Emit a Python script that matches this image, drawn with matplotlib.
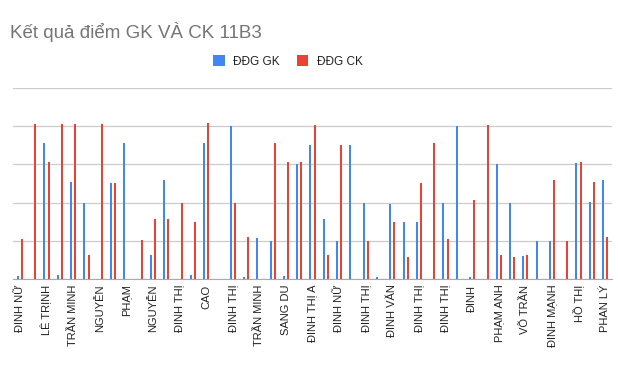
import numpy as np
import matplotlib.pyplot as plt

plt.rcParams['font.family'] = ['Liberation Sans', 'DejaVu Sans']

# labels shown on the axis (every other student)
names = ['ĐINH NỮ', 'LÊ TRỊNH', 'TRẦN MINH', 'NGUYỄN', 'PHẠM', 'NGUYỄN',
         'ĐINH THỊ', 'CAO', 'ĐINH THỊ', 'TRẦN MINH', 'SANG DU', 'ĐINH THỊ A',
         'ĐINH NỮ', 'ĐINH THỊ', 'ĐINH VĂN', 'ĐINH THỊ', 'ĐINH THỊ', 'ĐINH',
         'PHẠM ANH', 'VÕ TRẦN', 'ĐINH MẠNH', 'HỒ THỊ', 'PHAN LÝ']

# scores, one per student (45 students)
gk = [0.15, 0, 7.1, 0.2, 5.1, 4.0, 0, 5.0, 7.1, 0, 1.25, 5.2, 0, 0.2, 7.1,
      0, 8.0, 0.1, 2.15, 2.0, 0.15, 6.0, 7.0, 3.15, 2.0, 7.0, 4.0, 0.1, 3.95, 3.0,
      3.0, 0, 4.0, 8.0, 0.1, 0, 6.0, 4.0, 1.2, 2.0, 2.0, 0, 6.05, 4.05, 5.2]
ck = [2.1, 8.1, 6.1, 8.1, 8.1, 1.25, 8.1, 5.05, 0, 2.05, 3.15, 3.15, 4.0, 3.0, 8.15,
      0, 4.0, 2.2, 0, 7.1, 6.1, 6.1, 8.05, 1.25, 7.0, 0, 2.0, 0, 3.0, 1.15,
      5.0, 7.1, 2.1, 0, 4.15, 8.05, 1.25, 1.15, 1.25, 0, 5.2, 2.0, 6.1, 5.1, 2.2]

x = np.arange(len(gk))
blue = '#4285F4'
red = '#EA4335'

fig = plt.figure(figsize=(6.18, 3.71), dpi=100)
ax = fig.add_axes([0.0215, 0.248, 0.9685, 0.515])

ax.bar(x - 0.16, gk, width=0.15, color=blue, label='ĐĐG GK', zorder=3)
ax.bar(x + 0.16, ck, width=0.15, color=red, label='ĐĐG CK', zorder=3)

ax.set_xlim(-0.5, len(gk) - 0.5)
ax.set_ylim(0, 10)
ax.set_yticks([0, 2, 4, 6, 8, 10])
ax.set_yticklabels([])
ax.tick_params(axis='y', length=0)
ax.grid(axis='y', color='#cccccc', linewidth=0.9, zorder=0)
for s in ['top', 'right', 'left']:
    ax.spines[s].set_visible(False)
ax.spines['bottom'].set_color('#aaaaaa')

ax.set_xticks(x[::2])
ax.set_xticklabels(names, rotation=90, fontsize=8, color='#222222')
ax.tick_params(axis='x', length=0, pad=4)

fig.text(0.016, 0.915, 'Kết quả điểm GK VÀ CK 11B3', fontsize=13.5,
         color='#757575', ha='left', va='center')
fig.legend(loc='center', bbox_to_anchor=(0.466, 0.835), ncol=2, frameon=False,
           fontsize=8.5, handlelength=0.95, handleheight=1.1, columnspacing=1.5,
           handletextpad=0.7, labelcolor='#222222')

fig.savefig('out.png', dpi=100)
